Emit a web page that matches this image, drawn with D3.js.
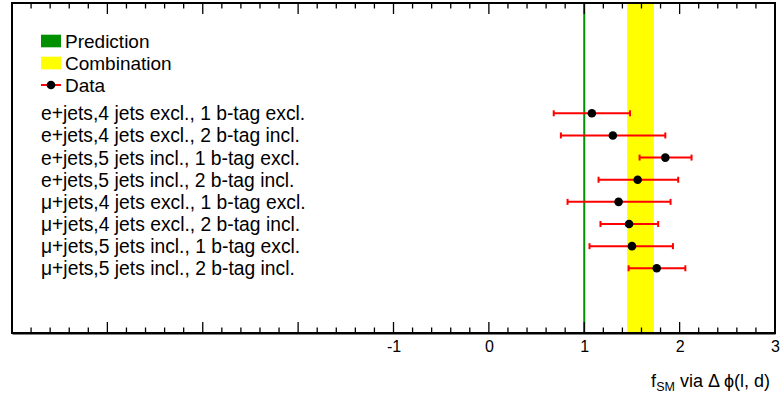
<!DOCTYPE html>
<html><head><meta charset="utf-8">
<script src="https://cdn.jsdelivr.net/npm/d3@7"></script>
<style>body{margin:0;background:#fff}svg{display:block}text{font-family:"Liberation Sans",Arial,sans-serif}</style>
</head><body>
<svg id="c" width="780" height="399"></svg>
<script>
const categories = [
  "e+jets,4 jets excl., 1 b-tag excl.",
  "e+jets,4 jets excl., 2 b-tag incl.",
  "e+jets,5 jets incl., 1 b-tag excl.",
  "e+jets,5 jets incl., 2 b-tag incl.",
  "\u03bc+jets,4 jets excl., 1 b-tag excl.",
  "\u03bc+jets,4 jets excl., 2 b-tag incl.",
  "\u03bc+jets,5 jets incl., 1 b-tag excl.",
  "\u03bc+jets,5 jets incl., 2 b-tag incl."
];
const values  = [1.08, 1.30, 1.85, 1.56, 1.36, 1.47, 1.50, 1.76];
const errLow  = [0.68, 0.755, 1.58, 1.15, 0.825, 1.17, 1.055, 1.465];
const errHigh = [1.48, 1.85, 2.125, 1.985, 1.905, 1.775, 1.93, 2.06];
const prediction = 1.0;
const combination = [1.45, 1.73];
const tickLabels = [-1, 0, 1, 2, 3];
const legendItems = ["Prediction", "Combination", "Data"];

const svg = d3.select("#c");
const L = 12, R = 775, T = 3, B = 333;
const x = d3.scaleLinear().domain([-5, 3]).range([L, R]);
const y = d3.scaleLinear().domain([0, categories.length - 1]).range([113.3, 268.3]);
const FONT = "Liberation Sans, Arial, sans-serif";

// combination band
svg.append("rect").attr("x", x(combination[0])).attr("y", T)
  .attr("width", x(combination[1]) - x(combination[0])).attr("height", B - T)
  .attr("fill", "#ffff00");
// prediction line
svg.append("line").attr("x1", x(prediction)).attr("x2", x(prediction))
  .attr("y1", T).attr("y2", B).attr("stroke", "#009000").attr("stroke-width", 2);

// frame
svg.append("rect").attr("x", L).attr("y", T).attr("width", R - L).attr("height", B - T)
  .attr("fill", "none").attr("stroke", "#000").attr("stroke-width", 2);

// ticks
const minor = d3.range(-5, 3.0001, 0.2).map(v => Math.round(v * 10) / 10);
minor.forEach(v => {
  const major = Math.abs(v - Math.round(v)) < 1e-6;
  const len = major ? 11 : 5.5;
  svg.append("line").attr("x1", x(v)).attr("x2", x(v)).attr("y1", B).attr("y2", B - len)
    .attr("stroke", "#000").attr("stroke-width", 1.3);
  svg.append("line").attr("x1", x(v)).attr("x2", x(v)).attr("y1", T).attr("y2", T + len)
    .attr("stroke", "#000").attr("stroke-width", 1.3);
});
// axis line + labels
const axis = d3.axisBottom(x).tickValues(tickLabels).tickSize(0).tickPadding(8).tickFormat(d3.format("d"));
const ga = svg.append("g").attr("transform", `translate(0,${B})`).call(axis);
ga.select(".domain").attr("stroke", "#000").attr("stroke-width", 2);
ga.selectAll("text").attr("font-size", 16).attr("fill", "#000")
  .attr("font-family", FONT).text(d => d < 0 ? "-" + Math.abs(d) : d);

// axis title
const tt = svg.append("text").attr("x", 770).attr("y", 386.5).attr("text-anchor", "end")
  .attr("font-size", 18).attr("fill", "#000").attr("font-family", FONT);
tt.append("tspan").text("f");
tt.append("tspan").attr("font-size", 12.5).attr("dy", 4).text("SM");
tt.append("tspan").attr("dy", -4).text(" via \u0394 \u03d5(l, d)");

// error bars
const g = svg.append("g");
categories.forEach((c, i) => {
  g.append("line").attr("x1", x(errLow[i])).attr("x2", x(errHigh[i]))
    .attr("y1", y(i)).attr("y2", y(i)).attr("stroke", "#ff0000").attr("stroke-width", 2);
  [errLow[i], errHigh[i]].forEach(v => {
    g.append("line").attr("x1", x(v)).attr("x2", x(v)).attr("y1", y(i) - 3).attr("y2", y(i) + 3)
      .attr("stroke", "#ff0000").attr("stroke-width", 2);
  });
  g.append("circle").attr("cx", x(values[i])).attr("cy", y(i)).attr("r", 4.3).attr("fill", "#000");
  svg.append("text").attr("x", 41).attr("y", y(i)).attr("dy", "0.36em")
    .attr("font-size", 19.3).attr("fill", "#000").attr("font-family", FONT).text(c);
});

// legend
const ly = [41, 63, 85];
svg.append("rect").attr("x", 41).attr("y", ly[0] - 6.3).attr("width", 20).attr("height", 12.6).attr("fill", "#009000");
svg.append("rect").attr("x", 41).attr("y", ly[1] - 6.3).attr("width", 20).attr("height", 12.6).attr("fill", "#ffff00");
svg.append("line").attr("x1", 41).attr("x2", 61).attr("y1", ly[2]).attr("y2", ly[2]).attr("stroke", "#ff0000").attr("stroke-width", 2);
svg.append("circle").attr("cx", 51).attr("cy", ly[2]).attr("r", 4.3).attr("fill", "#000");
legendItems.forEach((t, i) => {
  svg.append("text").attr("x", 65).attr("y", ly[i]).attr("dy", "0.36em")
    .attr("font-size", 19).attr("fill", "#000").attr("font-family", FONT).text(t);
});
</script>
</body></html>
